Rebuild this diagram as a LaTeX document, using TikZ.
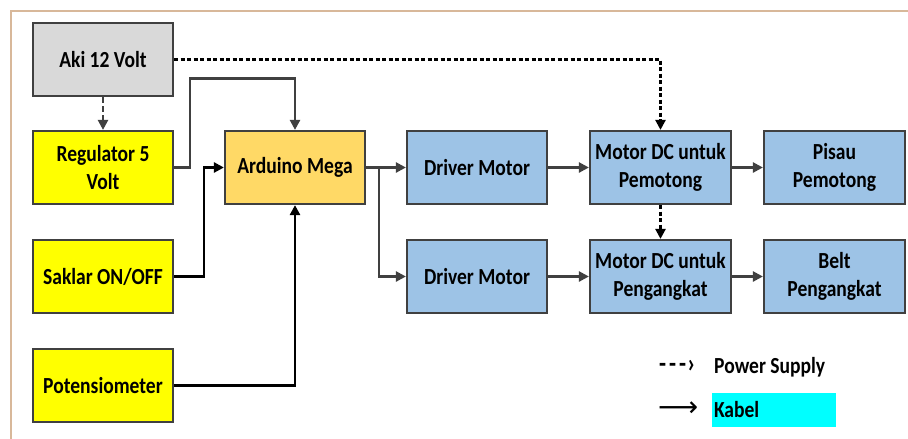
\documentclass[tikz,border=0pt]{standalone}
\usepackage{fontspec}
\setmainfont{Carlito}[FakeStretch=0.85]
\newfontfamily\symfont{DejaVu Sans}
\usetikzlibrary{arrows.meta}
\definecolor{akigray}{HTML}{D9D9D9}
\definecolor{regyellow}{HTML}{FFFF00}
\definecolor{megaorange}{HTML}{FFD966}
\definecolor{motorblue}{HTML}{9DC3E6}
\definecolor{edgegray}{HTML}{404040}
\definecolor{framebrown}{HTML}{D8B89A}
\definecolor{kabelcyan}{HTML}{00FFFF}
\tikzset{
  block/.style={draw=edgegray, line width=2.2pt, minimum width=140pt, minimum height=73pt,
    inner sep=0pt, align=center, font=\fontsize{23}{28}\selectfont\bfseries},
  wire/.style={draw=edgegray, line width=2.4pt, -{Triangle[length=10pt,width=10pt]}},
  blackwire/.style={wire, draw=black, line width=2.6pt},
  pwr/.style={draw=black, line width=2.4pt, dash pattern=on 4pt off 2.5pt, -{Triangle[length=10pt,width=10pt]}},
  legend/.style={anchor=west, inner sep=0pt, font=\fontsize{23}{24}\selectfont\bfseries}
}

\begin{document}
\begin{tikzpicture}[x=1pt,y=-1pt]
  \useasboundingbox [fill=white] (0,0) rectangle (908,439);
  \draw [framebrown, line width=1.6pt] (11,439) -- (11,11) -- (908,11);

  % left column
  \node [block, fill=akigray] (aki) at (103,59.5) {Aki 12 Volt};
  \node [block, fill=regyellow] (reg) at (103,167.5) {Regulator 5\\Volt};
  \node [block, fill=regyellow] (saklar) at (103,276.5) {Saklar ON/OFF};
  \node [block, fill=regyellow] (poten) at (103,385.5) {Potensiometer};

  % controller and drivers
  \node [block, fill=megaorange] (mega) at (295,167.5) {Arduino Mega};
  \node [block, fill=motorblue] (drvA) at (477,167.5) {Driver Motor};
  \node [block, fill=motorblue] (drvB) at (477,276.5) {Driver Motor};
  \node [block, fill=motorblue, minimum width=141pt] (motA) at (660.5,167.5) {Motor DC untuk\\Pemotong};
  \node [block, fill=motorblue, minimum width=141pt] (motB) at (660.5,276.5) {Motor DC untuk\\Pengangkat};
  \node [block, fill=motorblue, minimum width=141pt] (pisau) at (834.5,167.5) {Pisau\\Pemotong};
  \node [block, fill=motorblue, minimum width=141pt] (belt) at (834.5,276.5) {Belt\\Pengangkat};

  % power supply
  \draw [pwr, draw=edgegray, dash pattern=on 6pt off 3pt] (aki) -- (reg);
  \draw [pwr] (aki.east) -| (motA.north);
  \draw [pwr] (motA) -- (motB);

  % kabel
  \draw [wire] (reg.east) -- ++(16,0) -- ++(0,-89) -| (mega.north);
  \draw [blackwire] (saklar.east) -- ++(30,0) |- (mega.west);
  \draw [blackwire] (poten.east) -| (mega.south);
  \path (mega.east) -- ++(13,0) coordinate (split);
  \draw [wire] (mega) -- (drvA);
  \draw [wire] (split) |- (drvB.west);
  \draw [wire] (drvA) -- (motA);
  \draw [wire] (drvB) -- (motB);
  \draw [wire] (motA) -- (pisau);
  \draw [wire] (motB) -- (belt);

  % legend
  \node [legend, font=\fontsize{27}{27}\selectfont\bfseries] (dashsym) at (659,366) {{-}\kern3pt{-}\kern3pt{-}\kern1pt›};
  \node [legend] (pwrtext) at (714,367) {Power Supply};
  \node [legend, font=\symfont\fontsize{28}{28}\selectfont] (linesym) at (658,409) {⟶};
  \node [fill=kabelcyan, minimum width=124pt, minimum height=34pt, inner sep=0pt] (kabelbox) at (774,410) {};
  \node [legend] (kabeltext) at (kabelbox.west) {\kern2pt Kabel};
\end{tikzpicture}
\end{document}
